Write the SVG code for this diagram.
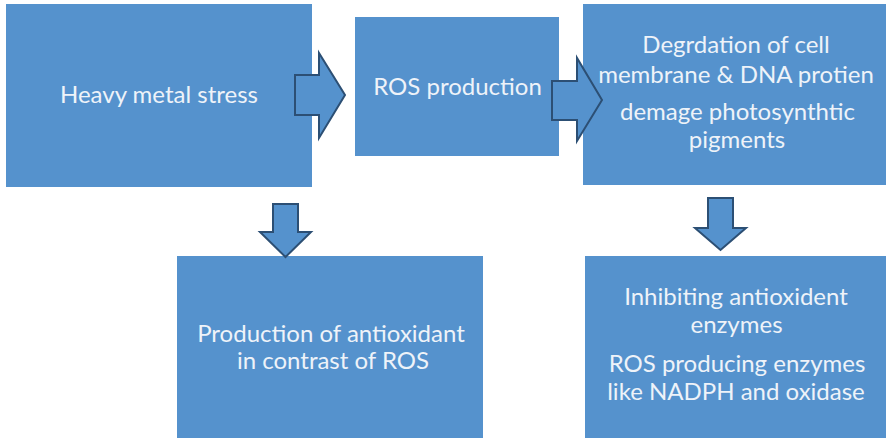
<svg xmlns="http://www.w3.org/2000/svg" width="887" height="438" viewBox="0 0 887 438">
  <style>
    .box { fill: #5592cd; }
    .lbl { fill: #eef3f9; font-family: Lato, "Open Sans", "Liberation Sans", sans-serif; font-size: 24px; text-anchor: middle; }
    .arrow { fill: #5592cd; stroke: #2c4f74; stroke-width: 2; stroke-linejoin: miter; }
  </style>
  <rect width="887" height="438" fill="#ffffff"/>

  <g id="heavy-metal-stress">
    <rect class="box" x="6" y="4" width="306" height="183"/>
    <text class="lbl" x="159" y="103">Heavy metal stress</text>
  </g>

  <g id="ros-production">
    <rect class="box" x="355" y="17" width="204" height="139"/>
    <text class="lbl" x="457.5" y="95">ROS production</text>
  </g>

  <g id="degradation">
    <rect class="box" x="583" y="4" width="303" height="181"/>
    <text class="lbl" x="736" y="53">Degrdation of cell</text>
    <text class="lbl" x="736" y="83">membrane &amp; DNA protien</text>
    <text class="lbl" x="737.5" y="120">demage photosynthtic</text>
    <text class="lbl" x="737" y="148">pigments</text>
  </g>

  <g id="antioxidant-production">
    <rect class="box" x="177" y="256" width="306" height="182"/>
    <text class="lbl" x="331" y="342">Production of antioxidant</text>
    <text class="lbl" x="333" y="369">in contrast of ROS</text>
  </g>

  <g id="inhibiting-enzymes">
    <rect class="box" x="585" y="256" width="301" height="182"/>
    <text class="lbl" x="736" y="305">Inhibiting antioxident</text>
    <text class="lbl" x="736.5" y="333">enzymes</text>
    <text class="lbl" x="737" y="372">ROS producing enzymes</text>
    <text class="lbl" x="736" y="400">like NADPH and oxidase</text>
  </g>

  <g id="connectors">
    <polygon class="arrow" points="295,75 319,75 319,53 345,95 319,138 319,115 295,115"/>
    <polygon class="arrow" points="552,81 577,81 577,58 602,100 577,141 577,120 552,120"/>
    <polygon class="arrow" points="273,204 298,204 298,232 311,232 285.5,257 260,232 273,232"/>
    <polygon class="arrow" points="708,198 733,198 733,228 746,228 720.5,250 695,228 708,228"/>
  </g>
</svg>
